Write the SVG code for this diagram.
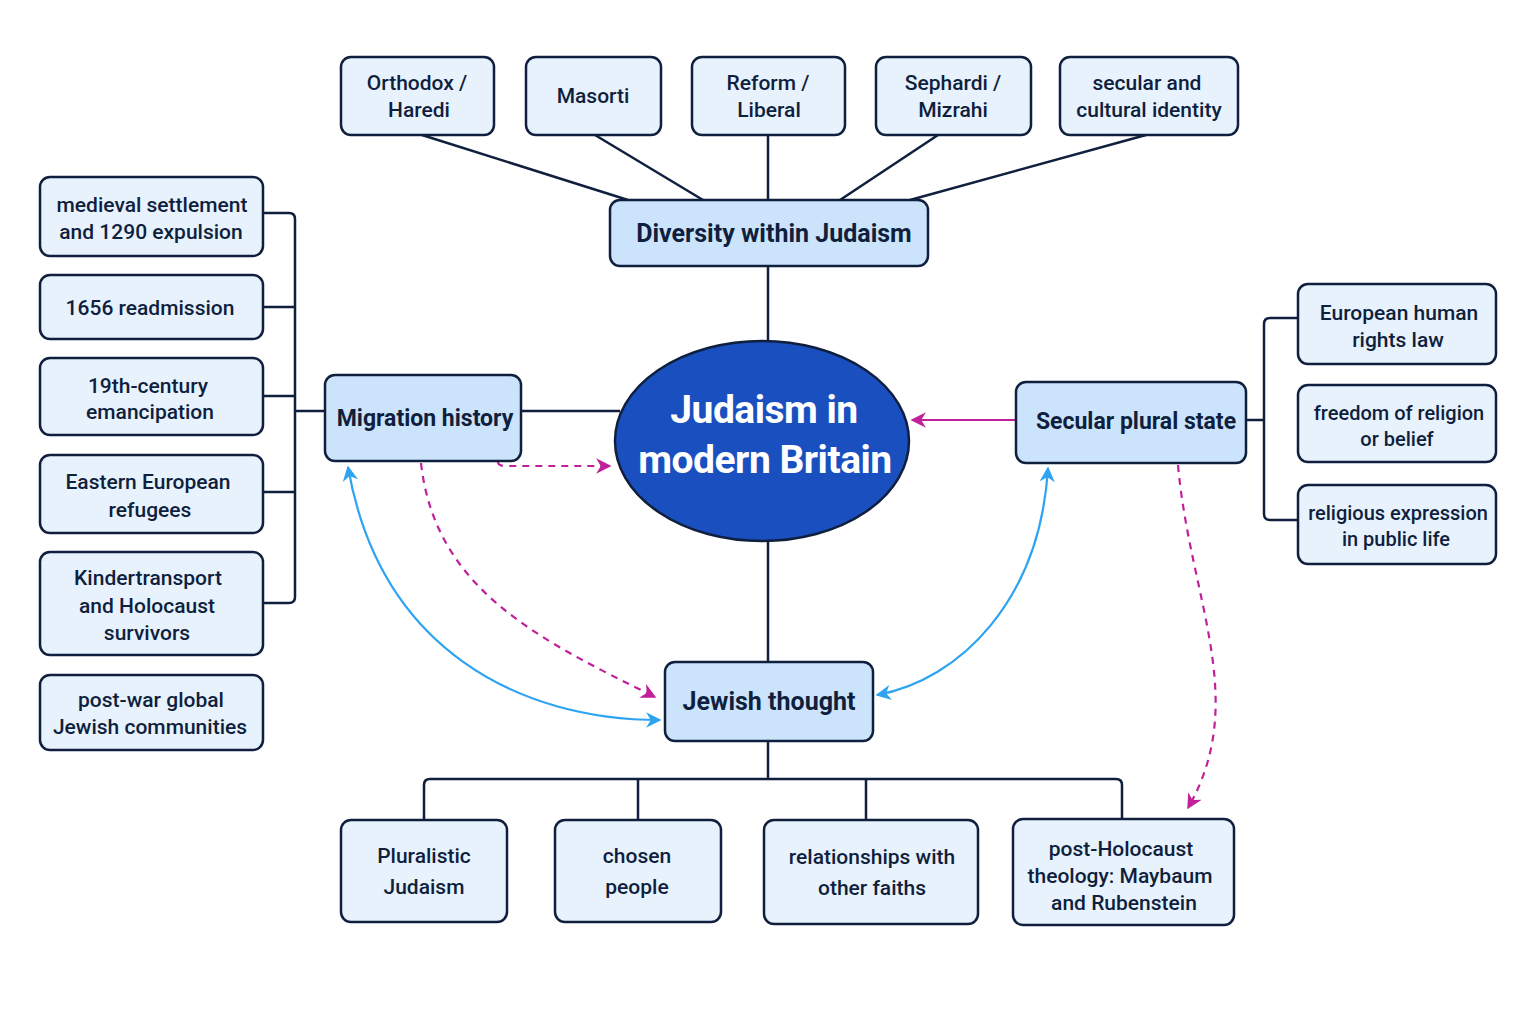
<svg xmlns="http://www.w3.org/2000/svg" width="1536" height="1024" viewBox="0 0 1536 1024">
<style>
.leaf{fill:#e7f2fd;stroke:#0f1f3d;stroke-width:2.5}
.hub{fill:#cbe4fb;stroke:#0f1f3d;stroke-width:2.5}
.t{font-family:Roboto,"Noto Sans",sans-serif;font-size:21px;font-weight:500;fill:#0f1f3d;text-anchor:middle}
.h{font-family:Roboto,"Noto Sans",sans-serif;font-size:25px;font-weight:700;fill:#0f1f3d;text-anchor:middle}
.c{font-family:Roboto,"Noto Sans",sans-serif;font-size:39px;font-weight:700;fill:#ffffff;text-anchor:middle;letter-spacing:-0.5px}
.ln{fill:none;stroke:#0f1f3d;stroke-width:2.5}
.bl{fill:none;stroke:#2ea3f2;stroke-width:2.2}
.mg{fill:none;stroke:#c0219a;stroke-width:2.2}
.dash{stroke-dasharray:7 6}
</style>
<defs>
<marker id="ab" viewBox="0 0 10 10" refX="9" refY="5" markerWidth="7" markerHeight="7" orient="auto-start-reverse"><path d="M0,0 L10,5 L0,10 L3,5 z" fill="#2ea3f2"/></marker>
<marker id="am" viewBox="0 0 10 10" refX="9" refY="5" markerWidth="7" markerHeight="7" orient="auto-start-reverse"><path d="M0,0 L10,5 L0,10 L3,5 z" fill="#c0219a"/></marker>
</defs>
<rect width="1536" height="1024" fill="#ffffff"/>
<g id="connectors">
<path class="ln" d="M422,135 L628,200 M595,135 L703,200 M768,135 L768,200 M938,135 L840,200 M1146,135 L910,200"/>
<path class="ln" d="M768,266 L768,342 M768,542 L768,662"/>
<path class="ln" d="M521,411 L620,411"/>
<path class="ln" d="M263,213 L289,213 Q295,213 295,219 L295,597 Q295,603 289,603 L263,603 M263,307 L295,307 M263,396 L295,396 M263,492 L295,492 M295,411 L325,411"/>
<path class="ln" d="M1246,420 L1264,420 M1298,318 L1270,318 Q1264,318 1264,324 L1264,514 Q1264,520 1270,520 L1298,520"/>
<path class="ln" d="M768,741 L768,779 M424,820 L424,785 Q424,779 430,779 L1116,779 Q1122,779 1122,785 L1122,819 M638,779 L638,820 M866,779 L866,820"/>
<path class="mg" d="M1016,420 L912,420" marker-end="url(#am)"/>
<path class="mg dash" d="M498,462 Q498,466 506,466 L610,466" marker-end="url(#am)"/>
<path class="mg dash" d="M421,463 C435,590 540,640 655,697" marker-end="url(#am)"/>
<path class="mg dash" d="M1178,465 C1190,600 1250,700 1188,808" marker-end="url(#am)"/>
<path class="bl" d="M348,467 C380,650 520,720 660,720" marker-start="url(#ab)" marker-end="url(#ab)"/>
<path class="bl" d="M1048,468 C1040,600 960,680 877,695" marker-start="url(#ab)" marker-end="url(#ab)"/>
</g>
<g id="center"><ellipse cx="762" cy="441" rx="147" ry="100" fill="#1a4fbf" stroke="#0f1f3d" stroke-width="2.5"/><text class="c" x="764" y="423">Judaism in</text><text class="c" x="765" y="473">modern Britain</text></g>
<g id="diversity"><rect class="hub" x="610" y="200" width="318" height="66" rx="10"/><text class="h" x="774" y="242">Diversity within Judaism</text></g>
<g id="orthodox"><rect class="leaf" x="341" y="57" width="153" height="78" rx="10"/><text class="t" x="417" y="90">Orthodox /</text><text class="t" x="419" y="117">Haredi</text></g>
<g id="masorti"><rect class="leaf" x="526" y="57" width="135" height="78" rx="10"/><text class="t" x="593" y="103">Masorti</text></g>
<g id="reform"><rect class="leaf" x="692" y="57" width="153" height="78" rx="10"/><text class="t" x="768" y="90">Reform /</text><text class="t" x="769" y="117">Liberal</text></g>
<g id="sephardi"><rect class="leaf" x="876" y="57" width="155" height="78" rx="10"/><text class="t" x="953" y="90">Sephardi /</text><text class="t" x="953" y="117">Mizrahi</text></g>
<g id="secular"><rect class="leaf" x="1060" y="57" width="178" height="78" rx="10"/><text class="t" x="1147" y="90">secular and</text><text class="t" x="1149" y="117">cultural identity</text></g>
<g id="migration"><rect class="hub" x="325" y="375" width="196" height="86" rx="10"/><text class="h" x="425" y="426" style="font-size:23px">Migration history</text></g>
<g id="medieval"><rect class="leaf" x="40" y="177" width="223" height="79" rx="10"/><text class="t" x="152" y="212">medieval settlement</text><text class="t" x="151" y="239">and 1290 expulsion</text></g>
<g id="readmission"><rect class="leaf" x="40" y="275" width="223" height="64" rx="10"/><text class="t" x="150" y="315">1656 readmission</text></g>
<g id="emancipation"><rect class="leaf" x="40" y="358" width="223" height="77" rx="10"/><text class="t" x="148" y="393">19th-century</text><text class="t" x="150" y="419">emancipation</text></g>
<g id="eastern"><rect class="leaf" x="40" y="455" width="223" height="78" rx="10"/><text class="t" x="148" y="489">Eastern European</text><text class="t" x="150" y="517">refugees</text></g>
<g id="kinder"><rect class="leaf" x="40" y="552" width="223" height="103" rx="10"/><text class="t" x="148" y="585">Kindertransport</text><text class="t" x="147" y="613">and Holocaust</text><text class="t" x="147" y="640">survivors</text></g>
<g id="postwar"><rect class="leaf" x="40" y="675" width="223" height="75" rx="10"/><text class="t" x="151" y="707">post-war global</text><text class="t" x="150" y="734">Jewish communities</text></g>
<g id="secularstate"><rect class="hub" x="1016" y="382" width="230" height="81" rx="10"/><text class="h" x="1136" y="429" style="font-size:23px">Secular plural state</text></g>
<g id="echr"><rect class="leaf" x="1298" y="284" width="198" height="80" rx="10"/><text class="t" x="1399" y="320">European human</text><text class="t" x="1398" y="347">rights law</text></g>
<g id="forb"><rect class="leaf" x="1298" y="385" width="198" height="77" rx="10"/><text class="t" x="1399" y="420" style="font-size:20px">freedom of religion</text><text class="t" x="1397" y="446" style="font-size:20px">or belief</text></g>
<g id="public"><rect class="leaf" x="1298" y="485" width="198" height="79" rx="10"/><text class="t" x="1398" y="520" style="font-size:20px">religious expression</text><text class="t" x="1396" y="546" style="font-size:20px">in public life</text></g>
<g id="thought"><rect class="hub" x="665" y="662" width="208" height="79" rx="10"/><text class="h" x="769" y="710">Jewish thought</text></g>
<g id="pluralistic"><rect class="leaf" x="341" y="820" width="166" height="102" rx="10"/><text class="t" x="424" y="863">Pluralistic</text><text class="t" x="424" y="894">Judaism</text></g>
<g id="chosen"><rect class="leaf" x="555" y="820" width="166" height="102" rx="10"/><text class="t" x="637" y="863">chosen</text><text class="t" x="637" y="894">people</text></g>
<g id="faiths"><rect class="leaf" x="764" y="820" width="214" height="104" rx="10"/><text class="t" x="872" y="864">relationships with</text><text class="t" x="872" y="895">other faiths</text></g>
<g id="holocaust"><rect class="leaf" x="1013" y="819" width="221" height="106" rx="10"/><text class="t" x="1121" y="856">post-Holocaust</text><text class="t" x="1120" y="883">theology: Maybaum</text><text class="t" x="1124" y="910">and Rubenstein</text></g>
</svg>
